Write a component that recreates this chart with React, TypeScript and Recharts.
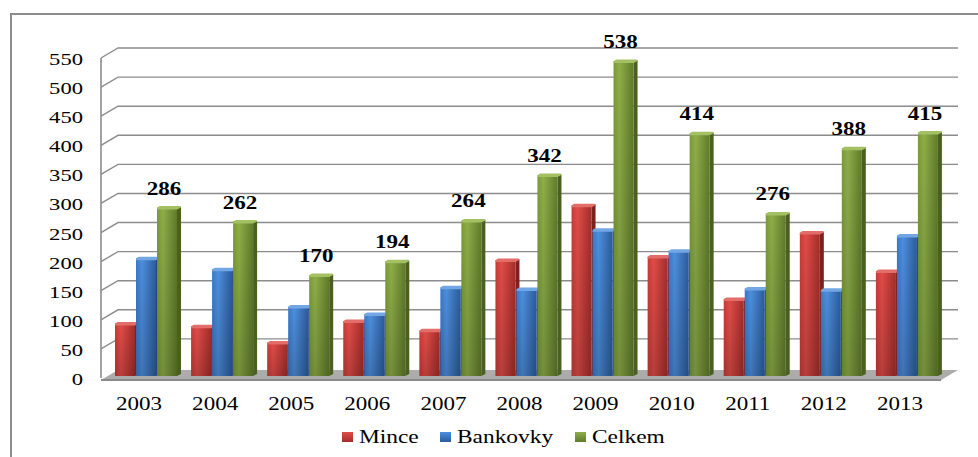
import React from 'react';
import { BarChart, Bar, XAxis, YAxis, CartesianGrid, LabelList } from 'recharts';

// ---- data ----
const years = ['2003', '2004', '2005', '2006', '2007', '2008', '2009', '2010', '2011', '2012', '2013'];
const mince = [87, 82, 54, 91, 75, 196, 290, 202, 129, 243, 177];
const bankovky = [199, 180, 116, 103, 149, 146, 248, 212, 147, 145, 238];
const celkem = [286, 262, 170, 194, 264, 342, 538, 414, 276, 388, 415];
const yTicks = [0, 50, 100, 150, 200, 250, 300, 350, 400, 450, 500, 550];
const seriesKeys = ['mince', 'bankovky', 'celkem'];
const seriesNames = ['Mince', 'Bankovky', 'Celkem'];

const data = years.map((year, i) => ({
  year,
  mince: mince[i],
  bankovky: bankovky[i],
  celkem: celkem[i],
}));

// ---- layout / style ----
const W = 978;
const H = 457;
const MARGIN = { top: 58, right: 40, bottom: 49, left: 0 };
const XAXIS_H = 30;
const YAXIS_W = 101;
const PLOT_BOTTOM = H - MARGIN.bottom - XAXIS_H;
const FONT = '"Liberation Serif", "Times New Roman", serif';
const STRETCH = 1.33;
const DX = 7; // depth offset of bars
const DY = 4;
const SIDE = 4;
const WALL_DX = 17;
const WALL_DY = 10;

const palette: Record<string, any> = {
  mince: { light: '#e04c48', mid: '#c93b37', dark: '#a32d2a', side: '#7e201d', top: '#e26d69' },
  bankovky: { light: '#4d8fdc', mid: '#3b78c8', dark: '#2c5b9e', side: '#20477e', top: '#73a6e4' },
  celkem: { light: '#8eae48', mid: '#7a9a38', dark: '#5f7b2a', side: '#4a6020', top: '#a3c062' },
};

function makeShape(key: string) {
  const c = palette[key];
  return (props: any) => {
    const { x, y, width, height } = props;
    if (!height || height <= 0) return <g />;
    const fx = x + DX;
    const top = y - DY;
    const bottom = y + height - 2;
    const w = width;
    return (
      <g>
        <polygon
          points={`${fx + w},${top + 1} ${fx + w + SIDE},${top - 1} ${fx + w + SIDE},${bottom - 2} ${fx + w},${bottom}`}
          fill={c.side}
        />
        <rect x={fx} y={top} width={w} height={bottom - top} fill={`url(#grad-${key})`} />
        <rect x={fx} y={top} width={w} height={bottom - top} fill="url(#shade-v)" />
        <path
          d={`M${fx},${top + 2} Q${fx},${top - 1} ${fx + 3},${top - 1.5} L${fx + w + SIDE - 1},${top - 1.5} Q${fx + w + SIDE},${top - 1} ${fx + w + SIDE},${top} L${fx + w},${top + 2} Z`}
          fill={c.top}
        />
      </g>
    );
  };
}

const gridLine = (p: any) => {
  const { x1, x2, y1, index } = p;
  if (Math.abs(y1 - PLOT_BOTTOM) < 1) {
    return (
      <g key={`grid-${index}`}>
        <polygon
          points={`${x1},${y1 + 2} ${x1 + WALL_DX},${y1 - WALL_DY + 2} ${x2 + WALL_DX + 3},${y1 - WALL_DY + 2} ${x2 + 3},${y1 + 2}`}
          fill="#acacac"
        />
        <line x1={x1} y1={y1 + 2} x2={x2 + 3} y2={y1 + 2} stroke="#8a8a8a" strokeWidth={2} />
      </g>
    );
  }
  return (
    <path
      key={`grid-${index}`}
      d={`M${x1},${y1} L${x1 + WALL_DX},${y1 - WALL_DY} L${x2 + WALL_DX + 3},${y1 - WALL_DY}`}
      stroke="#8c8c8c"
      strokeWidth={1.4}
      fill="none"
    />
  );
};

const YTick = (props: any) => {
  const { x, y, payload } = props;
  return (
    <text
      transform={`translate(${x - 18},${y + 7}) scale(${STRETCH},1)`}
      textAnchor="end"
      fontSize={17}
      fontFamily={FONT}
      fill="#000"
    >
      {payload.value}
    </text>
  );
};

const XTick = (props: any) => {
  const { x, y, payload } = props;
  return (
    <text
      transform={`translate(${x},${y + 32}) scale(${STRETCH - 0.05},1)`}
      textAnchor="middle"
      fontSize={18}
      fontFamily={FONT}
      fill="#000"
    >
      {payload.value}
    </text>
  );
};

const TopLabel = (props: any) => {
  const { x, y, width, value } = props;
  const cx = x + DX + width / 2 - 3;
  return (
    <text
      transform={`translate(${cx},${y - DY - 13}) scale(1.28,1)`}
      textAnchor="middle"
      fontSize={18}
      fontWeight="bold"
      fontFamily={FONT}
      fill="#000"
    >
      {value}
    </text>
  );
};

// legend layout (item starts and text widths)
const legendStart = [342, 440, 575];

export default function App() {
  return (
    <div style={{ position: 'absolute', left: 0, top: 0, width: W, height: H, background: '#fff', overflow: 'hidden' }}>
      <BarChart
        width={W}
        height={H}
        data={data}
        margin={MARGIN}
        barSize={20}
        barGap={1}
      >
        <defs>
          {seriesKeys.map((k) => (
            <linearGradient key={k} id={`grad-${k}`} x1="0" y1="0" x2="1" y2="0">
              <stop offset="0%" stopColor={palette[k].mid} />
              <stop offset="30%" stopColor={palette[k].light} />
              <stop offset="100%" stopColor={palette[k].dark} />
            </linearGradient>
          ))}
          <linearGradient id="shade-v" x1="0" y1="0" x2="0" y2="1">
            <stop offset="0%" stopColor="#000" stopOpacity={0} />
            <stop offset="100%" stopColor="#000" stopOpacity={0.18} />
          </linearGradient>
        </defs>
        <CartesianGrid vertical={false} horizontal={gridLine} />
        <XAxis
          dataKey="year"
          height={XAXIS_H}
          axisLine={false}
          tickLine={false}
          tickSize={0}
          tickMargin={0}
          tick={<XTick />}
          interval={0}
        />
        <YAxis
          width={YAXIS_W}
          domain={[0, 550]}
          ticks={yTicks}
          interval={0}
          axisLine={{ stroke: '#8c8c8c', strokeWidth: 1.6 }}
          tickLine={false}
          tickSize={0}
          tickMargin={0}
          tick={<YTick />}
        />
        <Bar dataKey="mince" name={seriesNames[0]} fill={palette.mince.mid} shape={makeShape('mince')} isAnimationActive={false} />
        <Bar dataKey="bankovky" name={seriesNames[1]} fill={palette.bankovky.mid} shape={makeShape('bankovky')} isAnimationActive={false} />
        <Bar dataKey="celkem" name={seriesNames[2]} fill={palette.celkem.mid} shape={makeShape('celkem')} isAnimationActive={false}>
          <LabelList dataKey="celkem" content={<TopLabel />} />
        </Bar>
      </BarChart>
      <div
        style={{
          position: 'absolute',
          left: 10,
          top: 13,
          width: W,
          height: H,
          borderLeft: '2px solid #8c8c8c',
          borderTop: '2px solid #8c8c8c',
          pointerEvents: 'none',
        }}
      />
      <svg width={W} height={H} style={{ position: 'absolute', left: 0, top: 0, pointerEvents: 'none' }}>
        <defs>
          {seriesKeys.map((k) => (
            <linearGradient key={k} id={`lg-${k}`} x1="0" y1="0" x2="0" y2="1">
              <stop offset="0%" stopColor={palette[k].light} />
              <stop offset="100%" stopColor={palette[k].dark} />
            </linearGradient>
          ))}
        </defs>
        {seriesKeys.map((k, i) => (
          <g key={k}>
            <rect x={legendStart[i]} y={432} width={11} height={10} fill={`url(#lg-${k})`} />
            <text
              transform={`translate(${legendStart[i] + 17},443) scale(1.3,1)`}
              fontSize={18}
              fontFamily={FONT}
              fill="#000"
            >
              {seriesNames[i]}
            </text>
          </g>
        ))}
      </svg>
    </div>
  );
}
